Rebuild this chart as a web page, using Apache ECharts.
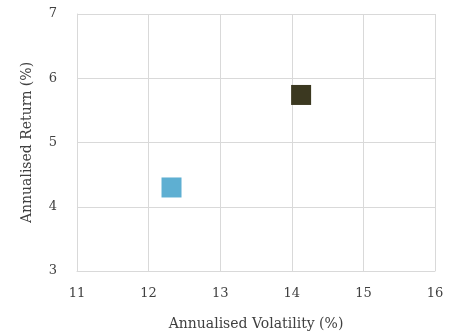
<!DOCTYPE html>
<html><head><meta charset="utf-8">
<script src="https://cdn.jsdelivr.net/npm/echarts@6/dist/echarts.min.js"></script>
<style>html,body{margin:0;padding:0;background:#fff}#c{width:457px;height:336px}</style>
</head><body><div id="c"></div>
<script>
const names = ['Fund A', 'Fund B'];
const volatility = [12.32, 14.13];
const returns = [4.30, 5.74];
const colors = ['#5eafd2', '#3b3820'];
const xTicks = [11, 12, 13, 14, 15, 16];
const yTicks = [3, 4, 5, 6, 7];

const font = 'DejaVu Serif';
const chart = echarts.init(document.getElementById('c'));
chart.setOption({
  animation: false,
  grid: {left: 77, right: 22, top: 14, bottom: 64},
  xAxis: {
    type: 'value', min: xTicks[0], max: xTicks[xTicks.length-1], interval: 1,
    name: 'Annualised Volatility (%)', nameLocation: 'middle', nameGap: 46,
    nameTextStyle: {fontFamily: font, fontSize: 14, color: '#404040'},
    axisLine: {show: true, lineStyle: {color: '#d9d9d9'}},
    axisTick: {show: false},
    axisLabel: {fontFamily: font, fontSize: 13, color: '#404040', margin: 16},
    splitLine: {show: true, lineStyle: {color: '#d9d9d9'}}
  },
  yAxis: {
    type: 'value', min: yTicks[0], max: yTicks[yTicks.length-1], interval: 1,
    name: 'Annualised Return (%)', nameLocation: 'middle', nameGap: 43,
    nameTextStyle: {fontFamily: font, fontSize: 14, color: '#404040'},
    axisLine: {show: true, lineStyle: {color: '#d9d9d9'}},
    axisTick: {show: false},
    axisLabel: {fontFamily: font, fontSize: 13, color: '#404040', margin: 20},
    splitLine: {show: true, lineStyle: {color: '#d9d9d9'}}
  },
  series: names.map((n, i) => ({
    name: n, type: 'scatter', symbol: 'rect', symbolSize: 20,
    data: [[volatility[i], returns[i]]],
    itemStyle: {color: colors[i], opacity: 1}
  }))
});
</script></body></html>
